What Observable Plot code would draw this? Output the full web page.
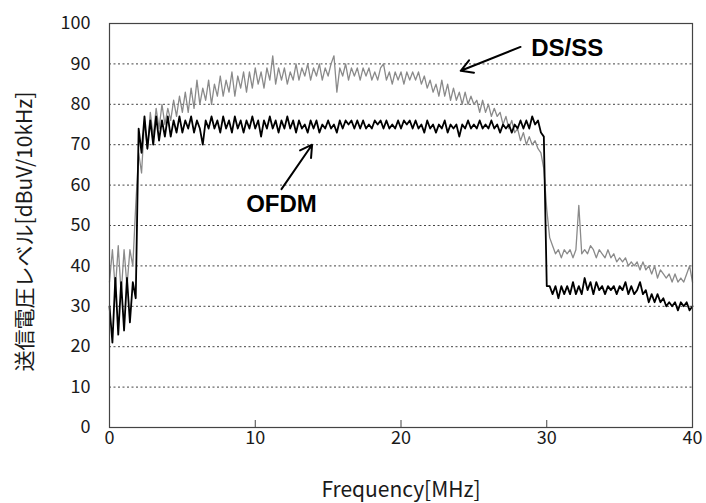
<!DOCTYPE html>
<html><head><meta charset="utf-8">
<script src="https://cdn.jsdelivr.net/npm/d3@7"></script>
<script src="https://cdn.jsdelivr.net/npm/@observablehq/plot@0.6"></script>
<style>html,body{margin:0;padding:0;background:#fff}</style>
</head><body><div id="chart"></div>
<script>
// Frequency sampling step (MHz) of the traced spectra
const stepMHz = 0.2;
// DS/SS transmit level (gray), 0..40 MHz every 0.2 MHz
const dsss = [
 36,44,34,45,33,44,35,44,40,55,
 68,63,76,69,78,72,79,74,80,75,
 79,76,81,77,82,78,83,78,84,79,
 86,80,84,81,86,80,85,82,87,82,
 86,83,88,82,87,84,88,83,88,84,
 89,85,88,84,89,86,92,85,89,86,
 89,85,88,86,90,86,89,87,90,86,
 89,87,90,86,89,87,90,92,83,89,
 87,90,86,89,87,89,86,89,87,89,
 86,88,86,89,90,86,88,85,88,86,
 88,85,88,86,88,86,88,85,87,84,
 86,83,85,82,86,82,85,81,84,81,
 83,80,83,80,82,80,81,78,81,78,
 80,77,79,77,78,75,77,74,76,73,
 74,71,73,70,72,70,71,69,68,64,
 54,47,45,43,44,42,44,43,44,42,
 44,55,43,44,43,45,44,42,44,43,
 42,44,42,43,41,42,41,42,40,41,
 40,41,39,41,39,40,38,40,37,39,
 38,37,38,36,38,36,37,36,38,40,
 36];
// OFDM transmit level (black)
const ofdm = [
 30,21,37,23,36,24,37,26,36,32,
 74,68,77,69,76,70,77,71,76,72,
 77,72,76,73,77,73,76,74,77,73,
 76,74,70,76,74,77,74,76,73,77,
 74,76,73,77,74,76,73,76,74,77,
 74,76,72,76,74,77,74,76,73,76,
 74,77,74,76,73,76,74,75,73,76,
 74,76,73,75,74,76,74,75,73,76,
 74,76,75,76,74,76,74,76,74,75,
 74,76,75,76,74,76,74,75,74,76,
 74,76,75,76,74,76,74,75,73,76,
 74,75,73,75,74,76,73,75,74,75,
 72,75,74,76,74,75,74,76,74,75,
 74,76,74,75,73,75,74,75,73,75,
 74,76,74,76,74,77,75,76,73,72,
 35,35,33,35,32,35,33,35,33,36,
 33,35,33,37,34,36,33,36,34,35,
 33,35,34,35,33,35,34,36,33,35,
 33,34,36,33,34,31,33,31,33,31,
 32,30,31,30,31,29,31,30,31,29,
 30];
const xTicks = [0, 10, 20, 30, 40];
const xInnerTicks = [10, 20, 30];
const yTicks = [0, 10, 20, 30, 40, 50, 60, 70, 80, 90, 100];
const yGrid = [10, 20, 30, 40, 50, 60, 70, 80, 90];
const xLabel = "Frequency[MHz]";
const yLabel = "送信電圧レベル[dBuV/10kHz]";
const seriesLabels = [
  {name: "DS/SS", f: 31.4, v: 93.8},
  {name: "OFDM", f: 11.8, v: 55.2}
];
const pointers = [
  {f1: 28.2, v1: 94.2, f2: 24.1, v2: 88.3},
  {f1: 11.8, v1: 59.0, f2: 13.9, v2: 70.0}
];

const rows = dsss.map((d, i) => ({f: i * stepMHz, dsss: d, ofdm: ofdm[i]}));
const jp = "'Noto Sans CJK JP','Noto Sans',sans-serif";

const chart = Plot.plot({
  width: 706, height: 503,
  marginLeft: 109, marginRight: 14, marginTop: 23, marginBottom: 76,
  style: {fontFamily: jp, background: "#fff", color: "#1a1a1a"},
  x: {domain: [0, 40]},
  y: {domain: [0, 100]},
  marks: [
    Plot.gridY(yGrid, {stroke: "#444", strokeOpacity: 1, strokeDasharray: "2,2.5", strokeWidth: 1}),
    Plot.line(rows, {x: "f", y: "dsss", stroke: "#8a8a8a", strokeWidth: 1.3}),
    Plot.line(rows, {x: "f", y: "ofdm", stroke: "#000", strokeWidth: 1.8}),
    Plot.frame({stroke: "#444", strokeWidth: 1.2}),
    Plot.axisX(xTicks, {tickSize: 0, tickPadding: 4, fontSize: 18, label: null}),
    Plot.axisX(xInnerTicks, {tickSize: 7, dy: -7, tickFormat: () => "", label: null, stroke: "#444"}),
    Plot.axisY(yTicks, {tickSize: 0, tickPadding: 19, fontSize: 18, label: null}),
    Plot.text([xLabel], {frameAnchor: "bottom", dy: 63, fontSize: 21, lineAnchor: "middle", textAnchor: "middle", fill: "#1a1a1a"}),
    Plot.text([yLabel], {frameAnchor: "left", dx: -84, dy: 6, rotate: -90, fontSize: 21, lineAnchor: "middle", textAnchor: "middle", fill: "#1a1a1a"}),
    Plot.arrow(pointers, {x1: "f1", y1: "v1", x2: "f2", y2: "v2", stroke: "#000", strokeWidth: 2, headLength: 10, bend: 0}),
    Plot.text(seriesLabels, {x: "f", y: "v", text: "name", fontSize: 24, fontWeight: "bold", fill: "#000", fontFamily: "'Liberation Sans',Arial,sans-serif"})
  ]
});
document.getElementById("chart").append(chart);
</script>
</body></html>
